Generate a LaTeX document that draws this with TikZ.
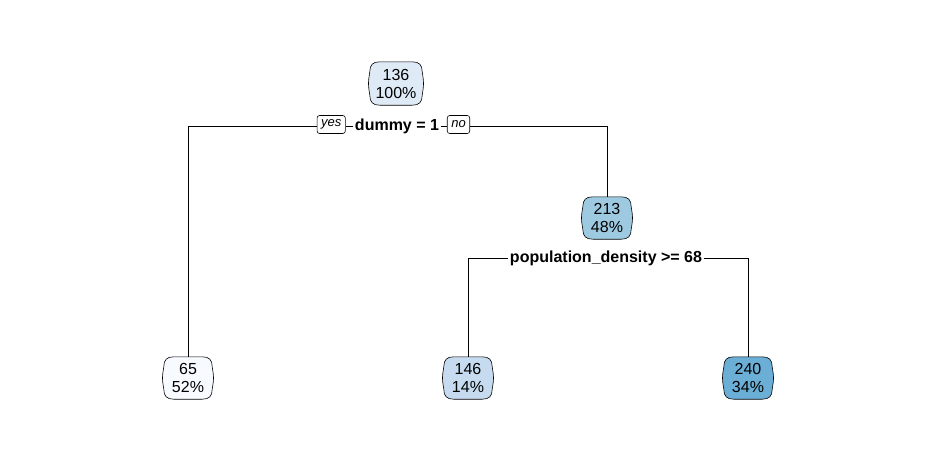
\documentclass[tikz,border=0pt]{standalone}
\usepackage{fontspec}
\setmainfont{Liberation Sans}
\usetikzlibrary{backgrounds}
\newcommand\barrelbox[2]{%
  \begin{pgfonlayer}{background}
  \path[draw=black, line width=0.6pt, fill=#2]
    ([xshift=10pt]#1.north west) -- ([xshift=-10pt]#1.north east)
    .. controls ([xshift=-3pt]#1.north east) and ([yshift=-3pt]#1.north east) .. ([yshift=-10pt]#1.north east)
    .. controls ([xshift=1.8pt]#1.east) .. ([yshift=10pt]#1.south east)
    .. controls ([yshift=3pt]#1.south east) and ([xshift=-3pt]#1.south east) .. ([xshift=-10pt]#1.south east)
    -- ([xshift=10pt]#1.south west)
    .. controls ([xshift=3pt]#1.south west) and ([yshift=3pt]#1.south west) .. ([yshift=10pt]#1.south west)
    .. controls ([xshift=-1.8pt]#1.west) .. ([yshift=-10pt]#1.north west)
    .. controls ([yshift=-3pt]#1.north west) and ([xshift=3pt]#1.north west) .. cycle;
  \end{pgfonlayer}}
\begin{document}
\begin{tikzpicture}[x=1pt,y=-1pt,
  tnode/.style={align=center, font=\fontsize{16}{18}\selectfont,
    minimum width=48pt, minimum height=42pt, inner sep=1pt},
  lbox/.style={draw=black, line width=0.6pt, rounded corners=2.5pt, fill=white,
    font=\fontsize{13}{13}\selectfont\itshape,
    minimum height=18pt, inner xsep=4pt, inner ysep=0pt},
  split/.style={font=\fontsize{16}{16}\selectfont\bfseries, inner xsep=1.5pt, inner ysep=0pt},
  edge/.style={draw=black, line width=0.6pt}]
\useasboundingbox (0,0) rectangle (934,463);
\definecolor{c65}{HTML}{F7FBFF}
\definecolor{c136}{HTML}{DEEBF7}
\definecolor{c146}{HTML}{C6DBEF}
\definecolor{c213}{HTML}{9ECAE1}
\definecolor{c240}{HTML}{6BAED6}
\node[tnode, minimum width=52pt, minimum height=43pt] (root) at (396,83.5) {136\\100\%};
\barrelbox{root}{c136}
\node[split] (s1) at (397,126) {dummy = 1};
\node[lbox] (yes) at (331.2,124.5) {yes};
\node[lbox] (no) at (458.5,124.5) {no};
\node[tnode] (n213) at (607,218) {213\\48\%};
\barrelbox{n213}{c213}
\node[split] (s2) at (606,258) {population\_density >= 68};
\node[tnode] (l65) at (188,378) {65\\52\%};
\barrelbox{l65}{c65}
\node[tnode] (l146) at (468,378) {146\\14\%};
\barrelbox{l146}{c146}
\node[tnode] (l240) at (748,378) {240\\34\%};
\barrelbox{l240}{c240}
\draw[edge] (yes.west |- s1) -| (l65.north);
\draw[edge] (yes.east |- s1) -- (s1.west);
\draw[edge] (s1.east) -- (no.west |- s1);
\draw[edge] (no.east |- s1) -| (n213.north);
\draw[edge] (s2.west) -| (l146.north);
\draw[edge] (s2.east) -| (l240.north);
\end{tikzpicture}
\end{document}
